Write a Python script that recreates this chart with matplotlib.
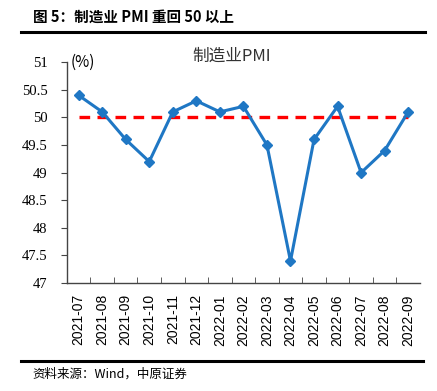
import matplotlib
matplotlib.use("Agg")
import matplotlib.pyplot as plt
from matplotlib.lines import Line2D

plt.rcParams['font.family'] = ['Liberation Serif', 'Noto Sans CJK SC', 'DejaVu Sans']

months = ['2021-07', '2021-08', '2021-09', '2021-10', '2021-11', '2021-12',
          '2022-01', '2022-02', '2022-03', '2022-04', '2022-05', '2022-06',
          '2022-07', '2022-08', '2022-09']
pmi = [50.4, 50.1, 49.6, 49.2, 50.1, 50.3, 50.1, 50.2, 49.5, 47.4,
       49.6, 50.2, 49.0, 49.4, 50.1]
ref_level = 50
yticks = [47, 47.5, 48, 48.5, 49, 49.5, 50, 50.5, 51]

fig = plt.figure(figsize=(4.37, 3.91), dpi=100)
ax = fig.add_axes([0.153, 0.276, 0.808, 0.565])

x = list(range(len(months)))
ax.plot(x, pmi, color='#1f77c4', lw=2.2, marker='D', ms=5.5, zorder=3)
ax.plot([x[0], x[-1]], [ref_level, ref_level], color='#ff0000',
        lw=2.4, ls=(0, (3.2, 2.2)), zorder=2)

ax.set_xlim(-0.5, len(months) - 0.5)
ax.set_ylim(47, 51)
ax.set_yticks(yticks)
ax.set_yticklabels([f'{v:g}' for v in yticks], fontsize=10.5)
ax.set_xticks(x)
ax.set_xticklabels(months, rotation=90, fontsize=10, family=['Liberation Sans'])
ax.tick_params(axis='x', length=0, pad=8)
ax.set_xticks([i + 0.5 for i in x[:-1]], minor=True)
ax.tick_params(axis='x', which='minor', direction='in', length=4, color='#444444')
ax.tick_params(axis='y', direction='out', length=4, color='#444444', pad=10)
for s in ['top', 'right']:
    ax.spines[s].set_visible(False)
for s in ['left', 'bottom']:
    ax.spines[s].set_color('#444444')
    ax.spines[s].set_linewidth(1.0)

ax.text(0.01, 1.0, '(%)', transform=ax.transAxes, fontsize=11, va='center',
        ha='left', family=['Noto Sans CJK SC'])
fig.text(0.53, 0.855, '制造业PMI', fontsize=12, ha='center', va='center',
         family=['Noto Sans CJK SC'], color='#333333')

fig.text(0.075, 0.958, '图 5：制造业 PMI 重回 50 以上', fontsize=10.5,
         fontweight='heavy', ha='left', va='center',
         family=['Noto Sans CJK SC', 'DejaVu Sans'])
fig.add_artist(Line2D([0.048, 0.973], [0.917, 0.917], color='black', lw=2.2))
fig.add_artist(Line2D([0.048, 0.968], [0.077, 0.077], color='black', lw=2.2))
fig.text(0.075, 0.043, '资料来源：Wind，中原证券', fontsize=9, ha='left',
         va='center', family=['Noto Sans CJK SC', 'DejaVu Sans'])

fig.savefig('out.png', dpi=100)
